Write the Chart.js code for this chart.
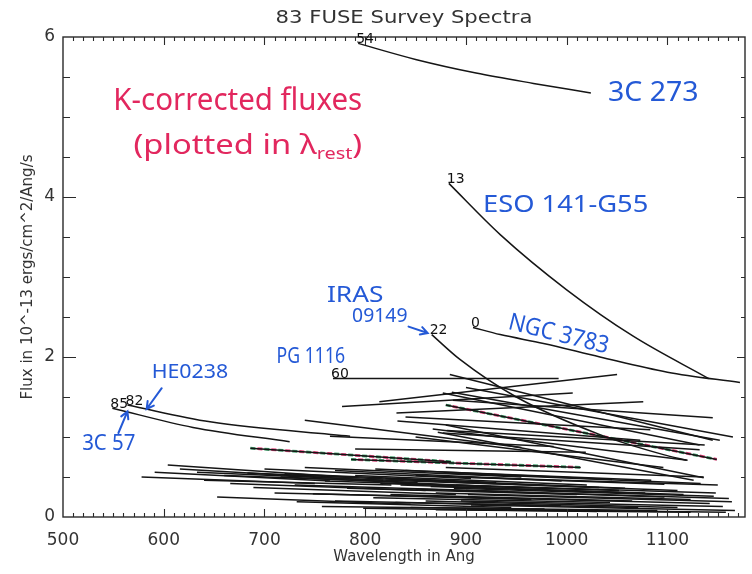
<!DOCTYPE html>
<html>
<head>
<meta charset="utf-8">
<script src="https://cdn.jsdelivr.net/npm/chart.js@4.4.1/dist/chart.umd.min.js"></script>
<style>
  html, body { margin: 0; padding: 0; background: #fff; }
  #wrap { width: 752px; height: 574px; }
</style>
</head>
<body>
<div id="wrap"><canvas id="fuseChart" width="752" height="574"></canvas></div>
<script>
// named spectra: rest wavelength (Ang) and flux (1e-13 erg/cm2/s/Ang)
const wave3C273 = [793, 850, 910, 967, 1024];
const flux3C273 = [5.92, 5.72, 5.55, 5.42, 5.30];
const waveESO141 = [883, 934, 1000, 1066, 1141];
const fluxESO141 = [4.17, 3.53, 2.84, 2.26, 1.73];
const waveNGC3783 = [907, 934, 977, 1033, 1100, 1172];
const fluxNGC3783 = [2.37, 2.28, 2.17, 2.00, 1.81, 1.68];
const waveIRAS09149 = [866, 894, 950, 1033, 1096, 1119];
const fluxIRAS09149 = [2.28, 1.97, 1.50, 1.03, 0.78, 0.71];
const wavePG1116 = [768, 992];
const fluxPG1116 = [1.73, 1.73];
const wave3C57 = [549, 629, 725];
const flux3C57 = [1.36, 1.12, 0.94];
const waveHE0238 = [564, 646, 785];
const fluxHE0238 = [1.40, 1.19, 1.01];
const namedIds = ['54', '13', '0', '22', '60', '85', '82'];

// everything else in the survey, start and end of each spectrum
const waveStart = [740, 777, 790, 814, 884, 900, 886, 887, 831, 880, 880, 872, 850, 867, 832, 877, 840, 765, 877, 881, 686, 786,
  578, 591, 604, 616, 633, 653, 666, 683, 689, 716, 732, 748, 757, 782, 798, 808, 700, 740, 770, 790, 820, 835, 850, 860,
  870, 878, 885, 890, 895, 900, 905, 880, 860, 845, 825, 815, 800, 760, 730, 710, 770, 830, 870, 892, 898, 850, 640, 660,
  720, 810, 840, 902, 888, 865];
const fluxStart = [1.21, 1.38, 0.85, 1.44, 1.78, 1.62, 1.56, 1.46, 1.30, 1.40, 1.15, 1.06, 1.00, 1.10, 1.20, 1.05, 1.25, 1.01, 1.55, 1.08, 0.86, 0.72,
  0.50, 0.56, 0.65, 0.60, 0.56, 0.25, 0.42, 0.55, 0.37, 0.50, 0.19, 0.29, 0.13, 0.36, 0.11, 0.24, 0.60, 0.62, 0.58, 0.52,
  0.48, 0.40, 0.35, 0.45, 0.30, 0.55, 0.25, 0.40, 0.20, 0.33, 0.15, 0.62, 0.20, 0.12, 0.28, 0.42, 0.47, 0.45, 0.40, 0.30,
  0.20, 0.18, 0.09, 0.50, 0.10, 0.52, 0.46, 0.52, 0.54, 0.60, 0.58, 0.28, 0.36, 0.38];
const waveEnd = [955, 1006, 1019, 1050, 1145, 1165, 1152, 1145, 1076, 1149, 1136, 1126, 1096, 1120, 1073, 1132, 1083, 987, 1132, 1137, 885, 1014,
  750, 765, 780, 795, 818, 845, 860, 883, 890, 925, 945, 965, 978, 1010, 1030, 1043, 905, 955, 995, 1020, 1058, 1078, 1097, 1110,
  1123, 1133, 1142, 1148, 1155, 1161, 1167, 1136, 1110, 1090, 1065, 1052, 1032, 981, 942, 916, 994, 1071, 1123, 1150, 1158, 1097, 826, 852,
  930, 1045, 1084, 1164, 1146, 1116];
const fluxEnd = [0.87, 1.55, 0.81, 1.78, 0.96, 1.00, 0.96, 1.24, 1.44, 0.72, 0.49, 0.46, 0.62, 0.71, 0.96, 0.84, 1.09, 0.88, 0.90, 0.90, 0.69, 0.62,
  0.42, 0.45, 0.50, 0.47, 0.46, 0.16, 0.33, 0.44, 0.28, 0.38, 0.12, 0.22, 0.10, 0.28, 0.07, 0.18, 0.48, 0.50, 0.45, 0.40,
  0.36, 0.30, 0.25, 0.33, 0.22, 0.42, 0.17, 0.30, 0.13, 0.23, 0.08, 0.50, 0.12, 0.08, 0.20, 0.33, 0.37, 0.36, 0.32, 0.24,
  0.14, 0.12, 0.06, 0.40, 0.06, 0.41, 0.40, 0.43, 0.43, 0.47, 0.46, 0.19, 0.26, 0.28];
// spectra that were overplotted in colour (indices into the arrays above)
const tintedSpectra = [9, 20, 21];

const xTicks = [500, 600, 700, 800, 900, 1000, 1100];
const yTicks = [0, 2, 4, 6];

const INK = '#151515';
const BLUE = '#2459d6';
const RED = '#e2275e';

function toPoints(w, f) {
  return w.map((v, i) => ({ x: v, y: f[i] }));
}

const named = [
  [wave3C273, flux3C273], [waveESO141, fluxESO141], [waveNGC3783, fluxNGC3783],
  [waveIRAS09149, fluxIRAS09149], [wavePG1116, fluxPG1116], [wave3C57, flux3C57], [waveHE0238, fluxHE0238]
];

const datasets = named.map(([w, f], i) => ({
  label: namedIds[i],
  data: toPoints(w, f),
  borderColor: INK,
  borderWidth: 1.5,
  pointRadius: 0,
  cubicInterpolationMode: 'monotone',
  fill: false
}));
waveStart.forEach((w, i) => {
  datasets.push({
    label: 'spec' + i,
    data: [{ x: w, y: fluxStart[i] }, { x: waveEnd[i], y: fluxEnd[i] }],
    borderColor: INK,
    borderWidth: 1.5,
    pointRadius: 0,
    fill: false
  });
});
// colour fringes sit underneath (datasets later in the list are drawn first)
tintedSpectra.forEach(i => {
  [['#3f9e6a', 0], ['#e2407a', 7]].forEach(([c, off]) => {
    datasets.push({
      label: 'tint' + i,
      data: [{ x: waveStart[i], y: fluxStart[i] }, { x: waveEnd[i], y: fluxEnd[i] }],
      borderColor: c,
      borderWidth: 2.8,
      borderDash: [5, 9],
      borderDashOffset: off,
      pointRadius: 0,
      fill: false
    });
  });
});

// text squeezed/stretched to a given width, centred on (cx, cy)
function drawFitted(ctx, runs, cx, cy, width, color, family, angle) {
  ctx.save();
  let total = 0;
  runs.forEach(r => {
    ctx.font = r.size + 'px ' + family;
    r.w = ctx.measureText(r.t).width;
    total += r.w;
  });
  ctx.translate(cx, cy);
  if (angle) ctx.rotate(angle * Math.PI / 180);
  ctx.scale(width / total, 1);
  ctx.fillStyle = color;
  ctx.textBaseline = 'middle';
  ctx.textAlign = 'left';
  let x = -total / 2;
  runs.forEach(r => {
    ctx.font = r.size + 'px ' + family;
    ctx.fillText(r.t, x, r.dy || 0);
    x += r.w;
  });
  ctx.restore();
}

function drawArrow(ctx, x0, y0, x1, y1) {
  const ang = Math.atan2(y1 - y0, x1 - x0);
  ctx.beginPath();
  ctx.moveTo(x0, y0);
  ctx.lineTo(x1, y1);
  ctx.moveTo(x1 - 8 * Math.cos(ang - 0.5), y1 - 8 * Math.sin(ang - 0.5));
  ctx.lineTo(x1, y1);
  ctx.lineTo(x1 - 8 * Math.cos(ang + 0.5), y1 - 8 * Math.sin(ang + 0.5));
  ctx.stroke();
}

const notes = [
  { runs: [{ t: 'K-corrected fluxes', size: 30 }], w0: 550, w1: 797, f: 5.20, color: RED },
  { runs: [{ t: '(plotted in λ', size: 28 }, { t: 'rest', size: 17, dy: 8 }, { t: ')', size: 28 }], w0: 570, w1: 797, f: 4.64, color: RED },
  { runs: [{ t: '3C 273', size: 27 }], w0: 1041, w1: 1131, f: 5.29, color: BLUE },
  { runs: [{ t: 'ESO 141-G55', size: 24 }], w0: 917, w1: 1081, f: 3.90, color: BLUE },
  { runs: [{ t: 'IRAS', size: 22 }], w0: 762, w1: 818, f: 2.77, color: BLUE },
  { runs: [{ t: '09149', size: 19 }], w0: 787, w1: 842, f: 2.51, color: BLUE },
  { runs: [{ t: 'NGC 3783', size: 24 }], w0: 941, w1: 1043, f: 2.28, color: BLUE, angle: 14 },
  { runs: [{ t: 'PG 1116', size: 21 }], w0: 712, w1: 780, f: 2.00, color: BLUE },
  { runs: [{ t: 'HE0238', size: 19 }], w0: 588, w1: 664, f: 1.80, color: BLUE },
  { runs: [{ t: '3C 57', size: 22 }], w0: 519, w1: 572, f: 0.91, color: BLUE }
];

const arrows = [
  [843, 2.38, 862, 2.30],
  [598, 1.61, 583, 1.35],
  [555, 1.05, 564, 1.32]
];

const scanAxes = {
  id: 'scanAxes',
  afterDatasetsDraw(chart) {
    const { ctx, chartArea: a, scales: { x, y } } = chart;
    ctx.save();

    // frame with inward ticks on all four sides
    ctx.strokeStyle = '#2a2a2a';
    ctx.lineWidth = 1.4;
    ctx.strokeRect(a.left, a.top, a.right - a.left, a.bottom - a.top);
    ctx.lineWidth = 1.1;
    ctx.beginPath();
    for (let w = 510; w < x.max; w += 10) {
      const px = Math.round(x.getPixelForValue(w)) + 0.5;
      const len = w % 100 === 0 ? 8 : 4;
      ctx.moveTo(px, a.bottom); ctx.lineTo(px, a.bottom - len);
      ctx.moveTo(px, a.top); ctx.lineTo(px, a.top + len);
    }
    for (let f = 0.5; f < y.max; f += 0.5) {
      const py = Math.round(y.getPixelForValue(f)) + 0.5;
      const major = f % 2 === 0;
      ctx.moveTo(a.left, py); ctx.lineTo(a.left + (major ? 13 : 7), py);
      ctx.moveTo(a.right, py); ctx.lineTo(a.right - (major ? 8 : 4), py);
    }
    ctx.stroke();

    // title over the plot box
    drawFitted(ctx, [{ t: '83 FUSE Survey Spectra', size: 18 }], (a.left + a.right) / 2, 18, 257, '#333', 'DejaVu Sans');

    // object numbers at the blue end of each named spectrum
    ctx.fillStyle = '#111';
    ctx.font = '14px DejaVu Sans';
    ctx.textAlign = 'left';
    ctx.textBaseline = 'bottom';
    named.forEach(([w, f], i) => {
      const px = x.getPixelForValue(w[0]);
      const py = y.getPixelForValue(f[0]);
      ctx.fillText(namedIds[i], px - 2, py + 3);
    });

    // hand-written notes
    notes.forEach(n => {
      const x0 = x.getPixelForValue(n.w0);
      const x1 = x.getPixelForValue(n.w1);
      drawFitted(ctx, n.runs, (x0 + x1) / 2, y.getPixelForValue(n.f), x1 - x0, n.color, 'Noto Sans', n.angle);
    });
    ctx.strokeStyle = BLUE;
    ctx.lineWidth = 2;
    ctx.lineCap = 'round';
    arrows.forEach(([w0, f0, w1, f1]) => {
      drawArrow(ctx, x.getPixelForValue(w0), y.getPixelForValue(f0), x.getPixelForValue(w1), y.getPixelForValue(f1));
    });
    ctx.restore();
  }
};

const ctx = document.getElementById('fuseChart').getContext('2d');
const fuseChart = new Chart(ctx, {
  type: 'line',
  data: { datasets: datasets },
  plugins: [scanAxes],
  options: {
    responsive: false,
    animation: false,
    layout: { padding: { top: 37, right: 7, left: 0, bottom: 0 } },
    plugins: {
      legend: { display: false },
      tooltip: { enabled: false },
      title: { display: false }
    },
    scales: {
      x: {
        type: 'linear',
        min: 500,
        max: 1177,
        afterBuildTicks: s => { s.ticks = xTicks.map(v => ({ value: v })); },
        afterFit: s => { s.height = 57; },
        grid: { display: false, drawTicks: false },
        border: { display: false },
        ticks: {
          color: '#333',
          padding: 13,
          font: { family: 'DejaVu Sans', size: 17 },
          callback: v => String(v)
        },
        title: {
          display: true,
          text: 'Wavelength in Ang',
          color: '#333',
          font: { family: 'DejaVu Sans', size: 15 },
          padding: { top: 0, bottom: 8 }
        }
      },
      y: {
        min: 0,
        max: 6,
        afterBuildTicks: s => { s.ticks = yTicks.map(v => ({ value: v })); },
        afterFit: s => { s.width = 63; },
        grid: { display: false, drawTicks: false },
        border: { display: false },
        ticks: { color: '#333', padding: 8, font: { family: 'DejaVu Sans', size: 17 } },
        title: {
          display: true,
          text: 'Flux in 10^-13 ergs/cm^2/Ang/s',
          color: '#333',
          font: { family: 'DejaVu Sans', size: 15 },
          padding: { top: 19, bottom: 0 }
        }
      }
    }
  }
});
</script>
</body>
</html>
